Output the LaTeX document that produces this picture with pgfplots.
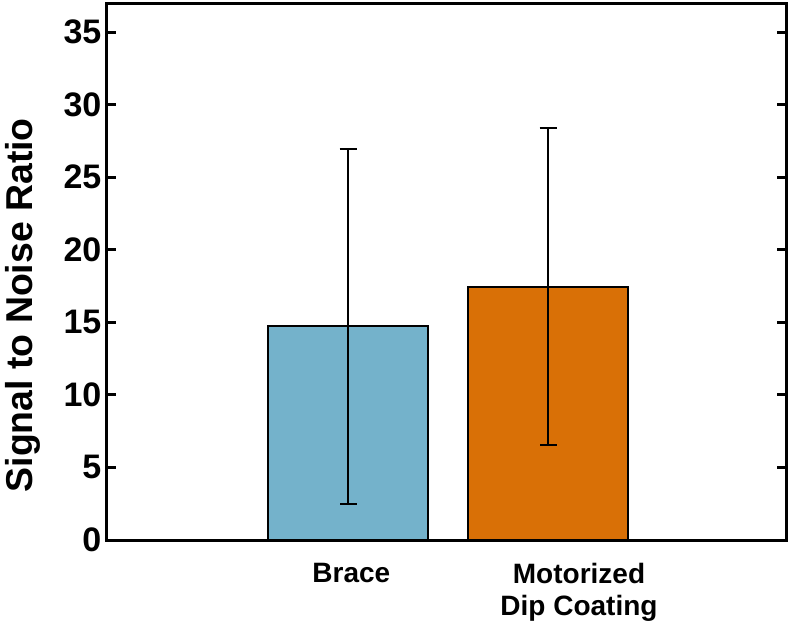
\documentclass[border=0pt]{standalone}
\usepackage{pgfplots}
\pgfplotsset{compat=1.18}
\usepackage{pgfplotstable}
\usepackage{fontspec}
\setmainfont{Liberation Sans}

\definecolor{braceblue}{RGB}{116,178,203}
\definecolor{diporange}{RGB}{217,112,6}

% mean signal-to-noise ratio with upper / lower error extents
\pgfplotstableread{
x y eplus eminus
1 14.74 12.20 12.26
}\bracedata
\pgfplotstableread{
x y eplus eminus
2 17.43 10.96 10.88
}\dipdata

\begin{document}
\begin{tikzpicture}
\begin{axis}[
  scale only axis,
  width=339.5pt, height=268pt,
  xmin=-0.205, xmax=3.19,
  ymin=0, ymax=36.93,
  axis line style={line width=1.5pt, black},
  xtick={1.017,2.155},
  xticklabels={Brace,{Motorized\\Dip Coating}},
  xtick style={draw=none},
  xticklabel style={font=\fontsize{14}{15.75}\selectfont\bfseries,
    align=center, anchor=north, inner sep=0pt, yshift=-7pt},
  ytick={0,5,...,35},
  tick align=inside,
  major tick length=4.5pt,
  ytick style={line width=1.5pt, black},
  yticklabel style={font=\fontsize{17}{17}\selectfont\bfseries,
    inner sep=0pt, xshift=-2.6pt},
  /pgf/number format/assume math mode=true,
  ylabel={Signal to Noise Ratio},
  ylabel style={font=\fontsize{18.7}{18.7}\selectfont\bfseries,
    at={(axis description cs:-0.1495,0.438)}, anchor=north, inner sep=0pt},
  ybar, bar width=0.8, bar shift=0pt,
  clip=false,
]
\addplot[fill=braceblue, draw=black, line width=0.75pt,
  error bars/.cd, y dir=both, y explicit,
  error bar style={line width=1pt, black},
  error mark options={rotate=90, mark size=4.25pt, line width=1pt, black}]
  table[x=x, y=y, y error plus=eplus, y error minus=eminus] {\bracedata};
\addplot[fill=diporange, draw=black, line width=0.75pt,
  error bars/.cd, y dir=both, y explicit,
  error bar style={line width=1pt, black},
  error mark options={rotate=90, mark size=4.25pt, line width=1pt, black}]
  table[x=x, y=y, y error plus=eplus, y error minus=eminus] {\dipdata};
\end{axis}
% fixed page frame around the axis box
\pgfresetboundingbox
\path[use as bounding box] (current axis.south west) ++(-53.5pt,-44pt)
  rectangle ([shift={(3pt,2pt)}]current axis.north east);
\end{tikzpicture}
\end{document}
